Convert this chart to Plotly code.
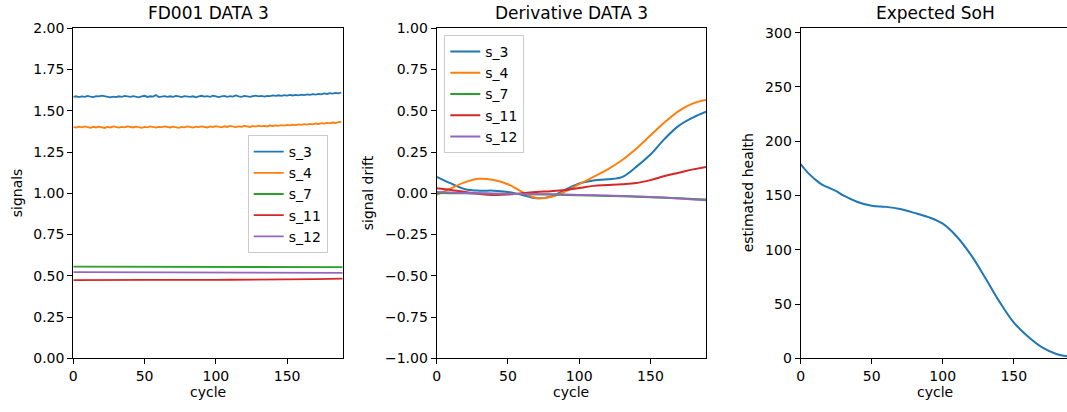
import plotly.graph_objects as go

W, H = 1067, 412

# ---------------- data ----------------
signal_names = ["s_3", "s_4", "s_7", "s_11", "s_12"]
colors = ["#1f77b4", "#ff7f0e", "#2ca02c", "#d62728", "#9467bd"]

cycles_fine = list(range(0, 190, 2))
s3_signal = [
    1.584, 1.588, 1.583, 1.587, 1.585, 1.590, 1.586, 1.583, 1.589, 1.587, 1.592,
    1.588, 1.584, 1.581, 1.586, 1.583, 1.588, 1.585, 1.590, 1.586, 1.584,
    1.589, 1.585, 1.582, 1.587, 1.591, 1.584, 1.588, 1.586, 1.596, 1.583,
    1.586, 1.589, 1.584, 1.588, 1.585, 1.590, 1.587, 1.583, 1.589, 1.586,
    1.584, 1.588, 1.582, 1.587, 1.591, 1.586, 1.589, 1.585, 1.592, 1.588,
    1.583, 1.587, 1.590, 1.585, 1.589, 1.586, 1.593, 1.587, 1.585, 1.590,
    1.588, 1.584, 1.589, 1.592, 1.587, 1.590, 1.586, 1.591, 1.589, 1.593,
    1.590, 1.594, 1.591, 1.595, 1.592, 1.596, 1.593, 1.597, 1.594, 1.598,
    1.595, 1.599, 1.597, 1.601, 1.598, 1.603, 1.600, 1.605, 1.602, 1.607,
    1.604, 1.609, 1.606, 1.611,
]
s4_signal = [
    1.402, 1.398, 1.404, 1.400, 1.405, 1.401, 1.397, 1.403, 1.399, 1.404, 1.400,
    1.396, 1.402, 1.399, 1.405, 1.401, 1.398, 1.403, 1.400, 1.406, 1.402,
    1.399, 1.404, 1.401, 1.397, 1.403, 1.400, 1.405, 1.402, 1.398, 1.403,
    1.401, 1.406, 1.402, 1.399, 1.404, 1.401, 1.397, 1.403, 1.400, 1.405,
    1.402, 1.398, 1.404, 1.401, 1.406, 1.403, 1.399, 1.405, 1.402, 1.407,
    1.403, 1.400, 1.406, 1.402, 1.408, 1.404, 1.401, 1.406, 1.403, 1.409,
    1.405, 1.402, 1.408, 1.404, 1.410, 1.406, 1.409, 1.405, 1.411, 1.408,
    1.412, 1.409, 1.413, 1.410, 1.415, 1.412, 1.416, 1.413, 1.418, 1.415,
    1.419, 1.416, 1.421, 1.418, 1.423, 1.420, 1.425, 1.422, 1.427, 1.424,
    1.429, 1.426, 1.431, 1.433,
]

cycles_coarse = [0, 10, 20, 30, 40, 50, 60, 70, 80, 90, 100, 110, 120, 130, 140, 150, 160, 170, 180, 189]
s7_signal = [0.556, 0.556, 0.556, 0.555, 0.556, 0.555, 0.555, 0.555, 0.555, 0.555,
             0.555, 0.554, 0.554, 0.554, 0.554, 0.553, 0.553, 0.553, 0.552, 0.552]
s11_signal = [0.474, 0.475, 0.474, 0.475, 0.474, 0.475, 0.475, 0.474, 0.475, 0.476,
              0.475, 0.476, 0.476, 0.477, 0.477, 0.478, 0.479, 0.480, 0.481, 0.483]
s12_signal = [0.522, 0.522, 0.521, 0.521, 0.521, 0.521, 0.521, 0.521, 0.521, 0.521,
              0.520, 0.520, 0.520, 0.520, 0.520, 0.519, 0.519, 0.519, 0.518, 0.518]

deriv_cycles = [0, 10, 20, 30, 40, 50, 60, 70, 80, 90, 100, 110, 120, 130, 140, 150, 160, 170, 180, 189]
s3_drift = [0.100, 0.060, 0.025, 0.016, 0.016, 0.008, -0.010, -0.030, -0.020, 0.020,
            0.060, 0.078, 0.085, 0.098, 0.160, 0.235, 0.330, 0.410, 0.460, 0.495]
s4_drift = [-0.010, 0.030, 0.068, 0.088, 0.080, 0.055, 0.008, -0.028, -0.022, 0.010,
            0.055, 0.100, 0.145, 0.200, 0.270, 0.350, 0.430, 0.500, 0.545, 0.565]
s7_drift = [0.002, 0.001, 0.000, -0.001, -0.002, -0.003, -0.004, -0.006, -0.008, -0.010,
            -0.012, -0.014, -0.016, -0.018, -0.021, -0.024, -0.027, -0.030, -0.034, -0.037]
s11_drift = [0.030, 0.020, 0.008, -0.003, -0.010, -0.008, 0.000, 0.008, 0.013, 0.020,
             0.032, 0.045, 0.050, 0.055, 0.062, 0.080, 0.105, 0.125, 0.145, 0.160]
s12_drift = [0.008, 0.005, 0.002, 0.000, -0.002, -0.003, -0.004, -0.005, -0.006, -0.008,
             -0.010, -0.012, -0.014, -0.016, -0.019, -0.022, -0.026, -0.031, -0.037, -0.042]

soh_cycles = [0, 5, 10, 15, 20, 25, 30, 40, 50, 60, 70, 80, 90, 100, 110, 120, 130, 140, 150, 160, 170, 180, 189]
soh_values = [179, 171, 165, 160, 157, 154, 150, 144, 140.5, 139.5, 137.5, 134, 130, 124,
              112, 95, 74, 52, 33, 20, 10, 4, 1.5]

titles = ["FD001 DATA 3", "Derivative DATA 3", "Expected SoH"]
y_labels = ["signals", "signal drift", "estimated health"]
x_label = "cycle"

# ---------------- layout helpers (pixel -> paper) ----------------
def px_x(p):
    return p / W

def px_y(p):
    return 1 - p / H

FONT = "DejaVu Sans"
top_px, bot_px = 28.3, 358.3
panels_px = [(73.3, 342.7), (436.7, 706.0), (800.7, 1067.0)]

fig = go.Figure()

signal_x = [cycles_fine, cycles_fine, cycles_coarse, cycles_coarse, cycles_coarse]
signal_y = [s3_signal, s4_signal, s7_signal, s11_signal, s12_signal]
for name, c, xs, ys in zip(signal_names, colors, signal_x, signal_y):
    fig.add_trace(go.Scatter(x=xs, y=ys, mode="lines", name=name,
                             line=dict(color=c, width=1.8),
                             xaxis="x", yaxis="y", legend="legend"))

drift_y = [s3_drift, s4_drift, s7_drift, s11_drift, s12_drift]
for name, c, ys in zip(signal_names, colors, drift_y):
    fig.add_trace(go.Scatter(x=deriv_cycles, y=ys, mode="lines", name=name,
                             line=dict(color=c, width=2, shape="spline", smoothing=1.0),
                             xaxis="x2", yaxis="y2", legend="legend2"))

fig.add_trace(go.Scatter(x=soh_cycles, y=soh_values, mode="lines", name="SoH",
                         line=dict(color=colors[0], width=2, shape="spline", smoothing=1.0),
                         xaxis="x3", yaxis="y3", showlegend=False))

axis_common = dict(showline=True, linecolor="black", linewidth=1.1, mirror=True,
                   ticks="outside", ticklen=5, tickwidth=1, tickcolor="black",
                   showgrid=False, zeroline=False, automargin=False,
                   tickfont=dict(family=FONT, size=14, color="black"))

ydom = [px_y(bot_px), px_y(top_px)]
layout = dict(
    width=W, height=H,
    margin=dict(l=0, r=0, t=0, b=0, autoexpand=False),
    paper_bgcolor="white", plot_bgcolor="white",
    font=dict(family=FONT, size=14, color="black"),
)
x_ranges = [[0, 189], [0, 189], [0, 187.5]]
y_ranges = [[0, 2], [-1, 1], [0, 304]]
y_dticks = [0.25, 0.25, 50]
y_formats = [".2f", ".2f", "d"]
for i in range(3):
    sfx = "" if i == 0 else str(i + 1)
    l, r = panels_px[i]
    layout["xaxis" + sfx] = dict(axis_common, domain=[px_x(l), min(px_x(r), 1.0)],
                                 range=x_ranges[i], tickmode="array",
                                 tickvals=[0, 50, 100, 150], anchor="y" + sfx)
    layout["yaxis" + sfx] = dict(axis_common, domain=ydom, range=y_ranges[i],
                                 dtick=y_dticks[i], tick0=0, tickformat=y_formats[i],
                                 anchor="x" + sfx)

legend_common = dict(bgcolor="rgba(255,255,255,0.8)", bordercolor="#cccccc", borderwidth=1,
                     font=dict(family=FONT, size=14, color="black"),
                     xanchor="left", yanchor="top", itemwidth=30,
                     tracegroupgap=0)
layout["legend"] = dict(legend_common, x=px_x(247.7), y=px_y(135))
layout["legend2"] = dict(legend_common, x=px_x(444.3), y=px_y(35))

annotations = []
title_centers = [208, 571.4, 935]
for t, cx in zip(titles, title_centers):
    annotations.append(dict(text=t, x=px_x(cx), y=px_y(13), xref="paper", yref="paper",
                            xanchor="center", yanchor="middle", showarrow=False,
                            font=dict(family=FONT, size=17, color="black")))
for i in range(3):
    l, r = panels_px[i]
    annotations.append(dict(text=x_label, x=px_x((l + r) / 2 if i < 2 else 935), y=px_y(392),
                            xref="paper", yref="paper", xanchor="center", yanchor="middle",
                            showarrow=False, font=dict(family=FONT, size=14, color="black")))
ylab_x = [17, 368, 748]
for lab, xx in zip(y_labels, ylab_x):
    annotations.append(dict(text=lab, x=px_x(xx), y=px_y((top_px + bot_px) / 2),
                            xref="paper", yref="paper", xanchor="center", yanchor="middle",
                            textangle=-90, showarrow=False,
                            font=dict(family=FONT, size=14, color="black")))
layout["annotations"] = annotations

fig.update_layout(**layout)
# remove the browser's default 8px body margin so the figure fills the window exactly
fig.write_html("out.html",
               config={"displayModeBar": False},
               post_script="document.body.style.margin='0px';document.body.style.overflow='hidden';")
